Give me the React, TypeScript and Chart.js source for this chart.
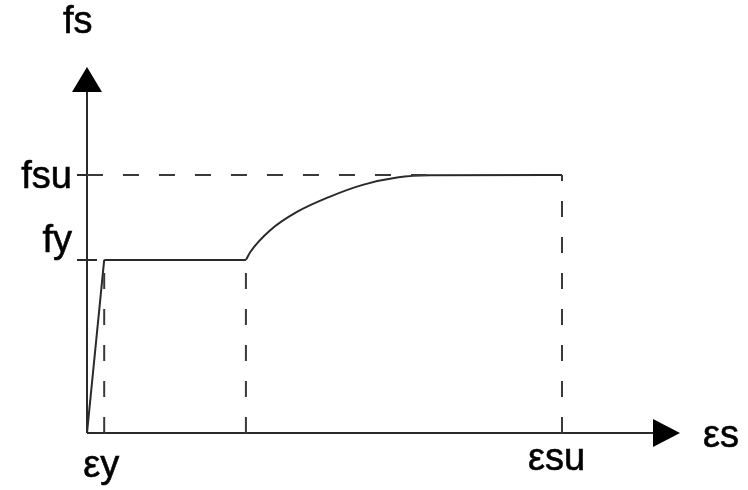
import React, { useEffect, useRef } from "react";
import { Chart, registerables } from "chart.js";

Chart.register(...registerables);

// Strain (x) and stress (y) in arbitrary units (axis spans 0..100)
const epsY = 2.9;        // yield strain
const epsSh = 26.8;      // start of strain hardening
const epsSu = 80.1;      // ultimate strain
const fy = 47.3;         // yield stress
const fsu = 70.5;        // ultimate stress

// Stress-strain curve (solid)
const elasticX = [0, epsY];
const elasticY = [0, fy];
const plateauX = [epsY, epsSh];
const plateauY = [fy, fy];
const hardeningX = [26.8, 27.6, 30.9, 35.4, 41.0, 46.5, 52.3, 57.8, 80.1];
const hardeningY = [47.3, 49.6, 55.4, 60.4, 64.6, 67.8, 69.8, 70.4, 70.5];

// Reference lines (dashed)
const fsuGuideEndX = 58;

// Labels
const yTickLabels = ["fy", "fsu"];
const yTickValues = [fy, fsu];
const xTickLabels = ["εy", "εsu"];
const xTickValues = [epsY, epsSu];
const yAxisTitle = "fs";
const xAxisTitle = "εs";

const pts = (xs: number[], ys: number[]) => xs.map((x, i) => ({ x, y: ys[i] }));

const LINE = "#2a2a2a";
const DASH = "#3a3a3a";
const FONT = '38px "Liberation Sans", Arial, sans-serif';

export default function App() {
  const ref = useRef<HTMLCanvasElement | null>(null);

  useEffect(() => {
    const canvas = ref.current;
    if (!canvas) return;

    const solid = (data: { x: number; y: number }[], tension = 0) => ({
      data,
      showLine: true,
      borderColor: LINE,
      borderWidth: 2,
      pointRadius: 0,
      tension,
      cubicInterpolationMode: tension ? ("monotone" as const) : ("default" as const),
      clip: false as const,
    });
    const dashed = (data: { x: number; y: number }[]) => ({
      data,
      showLine: true,
      borderColor: DASH,
      borderWidth: 2,
      borderDash: [16, 20],
      pointRadius: 0,
      clip: false as const,
    });

    const axesPlugin = {
      id: "axesPlugin",
      beforeDatasetsDraw(chart: any) {
        const { ctx, scales } = chart;
        const xs = scales.x;
        const ys = scales.y;
        const x0 = xs.getPixelForValue(0);
        const y0 = ys.getPixelForValue(0);
        const xEnd = xs.getPixelForValue(100);
        const yEnd = ys.getPixelForValue(100);
        ctx.save();
        ctx.strokeStyle = LINE;
        ctx.lineWidth = 2;
        ctx.beginPath();
        ctx.moveTo(x0, y0);
        ctx.lineTo(x0, yEnd + 20);
        ctx.moveTo(x0, y0);
        ctx.lineTo(xEnd - 20, y0);
        // y-axis ticks
        yTickValues.forEach((v) => {
          const py = ys.getPixelForValue(v);
          ctx.moveTo(x0 - 10, py);
          ctx.lineTo(x0 + 10, py);
        });
        ctx.stroke();
        ctx.restore();
      },
      afterDatasetsDraw(chart: any) {
        const { ctx, scales } = chart;
        const xs = scales.x;
        const ys = scales.y;
        const x0 = xs.getPixelForValue(0);
        const y0 = ys.getPixelForValue(0);
        const xEnd = xs.getPixelForValue(100);
        const yEnd = ys.getPixelForValue(100);
        ctx.save();
        ctx.fillStyle = "#000";
        // arrows
        ctx.beginPath();
        ctx.moveTo(x0, yEnd);
        ctx.lineTo(x0 - 15, yEnd + 25);
        ctx.lineTo(x0 + 15, yEnd + 25);
        ctx.closePath();
        ctx.fill();
        ctx.beginPath();
        ctx.moveTo(xEnd, y0);
        ctx.lineTo(xEnd - 27, y0 - 14);
        ctx.lineTo(xEnd - 27, y0 + 14);
        ctx.closePath();
        ctx.fill();

        // labels
        ctx.font = FONT;
        ctx.fillStyle = "#000";
        ctx.strokeStyle = "#000";
        ctx.lineWidth = 0.6;
        ctx.textBaseline = "alphabetic";
        const draw = (t: string, x: number, y: number) => {
          ctx.fillText(t, x, y);
          ctx.strokeText(t, x, y);
        };
        // y tick labels
        ctx.textAlign = "right";
        const yOff = [-8, 13];
        yTickLabels.forEach((t, i) => {
          draw(t, x0 - 15, ys.getPixelForValue(yTickValues[i]) + yOff[i]);
        });
        // x tick labels
        ctx.textAlign = "left";
        const xOff = [-21, -34];
        const bOff = [44, 37];
        xTickLabels.forEach((t, i) => {
          draw(t, xs.getPixelForValue(xTickValues[i]) + xOff[i], y0 + bOff[i]);
        });
        // axis titles
        draw(yAxisTitle, x0 - 24, yEnd - 34);
        draw(xAxisTitle, xEnd + 23, y0 + 14);
        ctx.restore();
      },
    };

    const chart = new Chart(canvas, {
      type: "scatter",
      data: {
        datasets: [
          dashed(pts([0, fsuGuideEndX], [fsu, fsu])),
          dashed(pts([epsY, epsY], [0, fy])),
          dashed(pts([epsSh, epsSh], [0, fy])),
          dashed(pts([epsSu, epsSu], [0, fsu])),
          solid(pts(elasticX, elasticY)),
          solid(pts(plateauX, plateauY)),
          solid(pts(hardeningX, hardeningY), 0.4),
        ] as any,
      },
      options: {
        animation: false,
        responsive: false,
        events: [],
        layout: { padding: { left: 87, right: 68, top: 67, bottom: 57 } },
        plugins: { legend: { display: false }, tooltip: { enabled: false } },
        scales: {
          x: { type: "linear", min: 0, max: 100, display: false },
          y: { type: "linear", min: 0, max: 100, display: false },
        },
      },
      plugins: [axesPlugin],
    });
    return () => chart.destroy();
  }, []);

  return (
    <div style={{ position: "fixed", left: 0, top: 0, width: 748, height: 490, background: "#fff" }}>
      <canvas ref={ref} width={748} height={490} style={{ display: "block" }} />
    </div>
  );
}
